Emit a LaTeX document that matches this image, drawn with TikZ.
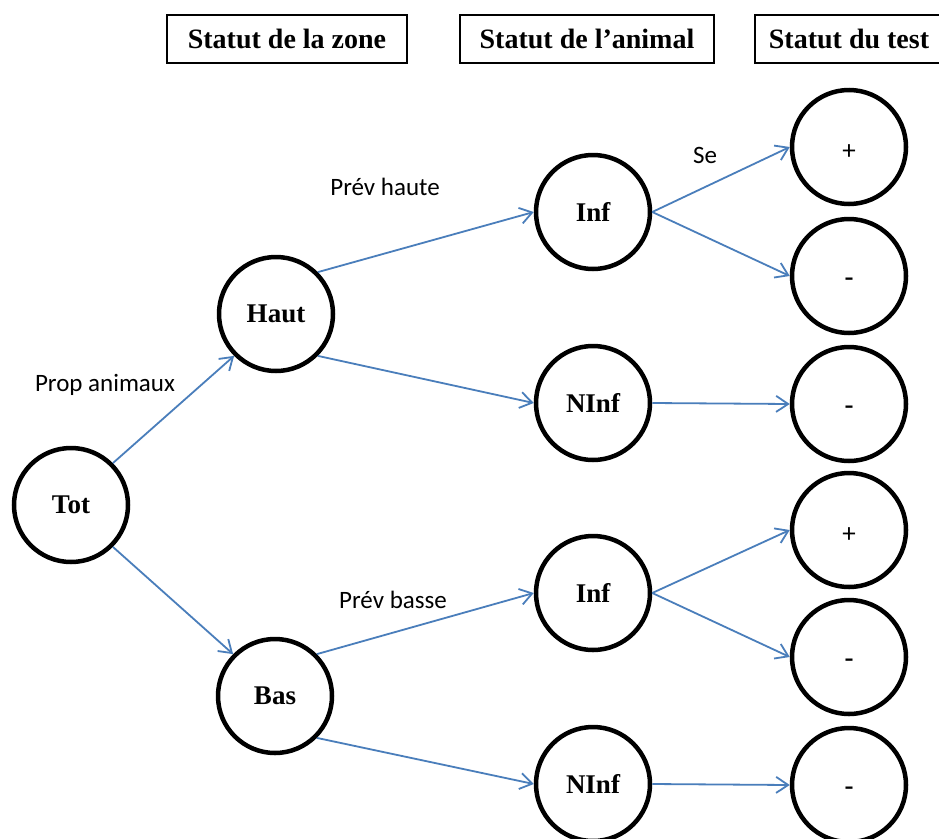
\documentclass[tikz,border=0pt]{standalone}
\usepackage{fontspec}
\setmainfont{Liberation Serif}
\newfontfamily\lblfont{Carlito}
\usetikzlibrary{arrows.meta}
\definecolor{arrowblue}{RGB}{74,126,187}

% signs set on the circle centre (zero-size boxes, ink lowered onto the centre)
\newcommand{\negsign}{\raisebox{-9pt}[0pt][0pt]{-}}
\newcommand{\possign}{{\lblfont\mdseries\raisebox{-12pt}[0pt][0pt]{+}}}

\begin{document}
\begin{tikzpicture}[x=1pt,y=-1pt,
  state/.style={circle,draw,line width=4.5pt,minimum size=114pt,inner sep=0pt,
    font=\fontsize{27}{30}\selectfont\bfseries},
  header/.style={draw,line width=2pt,minimum height=48pt,inner sep=0pt,
    font=\fontsize{28}{30}\selectfont\bfseries},
  link/.style={draw=arrowblue,line width=1.8pt,
    -{Straight Barb[length=12pt,width=16pt,line width=1.8pt]}},
  lbl/.style={font=\lblfont\fontsize{25}{28}\selectfont}]

\useasboundingbox[fill=white] (0,0) rectangle (939,838);

% column headers
\node[header,minimum width=240pt] (h1) at (287,39) {Statut de la zone};
\node[header,minimum width=254pt] (h2) at (587,39) {Statut de l'animal};
\node[header,minimum width=188pt] (h3) at (849,39) {Statut du test};

% zone level
\node[state] (tot)  at (71,505)  {Tot};
\node[state] (haut) at (276,314) {Haut};
\node[state] (bas)  at (275,696) {Bas};

% animal level
\node[state] (inf1)  at (593,212) {Inf};
\node[state] (ninf1) at (593,403) {NInf};
\node[state] (inf2)  at (593,593) {Inf};
\node[state] (ninf2) at (593,784) {NInf};

% test level
\node[state] (t1) at (849,147) {\possign};
\node[state] (t2) at (849,276) {\negsign};
\node[state] (t3) at (849,404) {\negsign};
\node[state] (t4) at (849,530) {\possign};
\node[state] (t5) at (849,657) {\negsign};
\node[state] (t6) at (849,785) {\negsign};

% branches
\draw[link] (tot.45)  -- (haut.225);
\draw[link] (tot.-45) -- (bas.135);
\draw[link] (haut.45)  -- (inf1.west);
\draw[link] (haut.-45) -- (ninf1.west);
\draw[link] (bas.45)   -- (inf2.west);
\draw[link] (bas.-45)  -- (ninf2.west);
\draw[link] (inf1.east)  -- (t1.west);
\draw[link] (inf1.east)  -- (t2.west);
\draw[link] (ninf1.east) -- (t3.west);
\draw[link] (inf2.east)  -- (t4.west);
\draw[link] (inf2.east)  -- (t5.west);
\draw[link] (ninf2.east) -- (t6.west);

% branch labels
\node[lbl] (l1) at (105,385) {Prop animaux};
\node[lbl] (l2) at (385,187) {Prév haute};
\node[lbl] (l3) at (393,600) {Prév basse};
\node[lbl] (l4) at (705,155) {Se};
\end{tikzpicture}
\end{document}
